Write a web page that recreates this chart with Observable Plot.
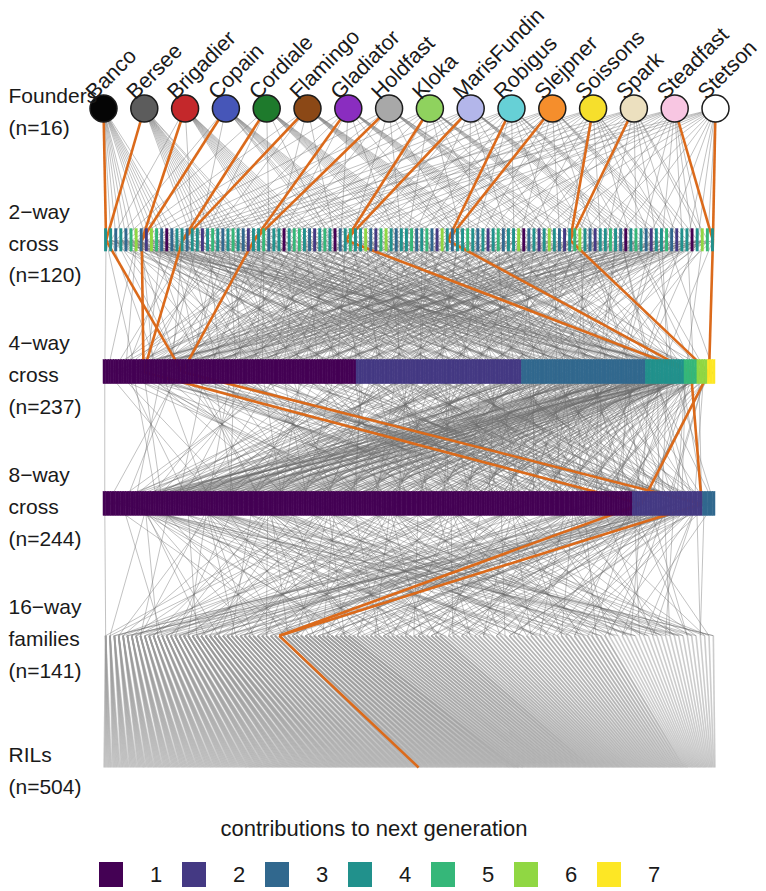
<!DOCTYPE html>
<html><head><meta charset="utf-8">
<script src="https://cdn.jsdelivr.net/npm/d3@7"></script>
<script src="https://cdn.jsdelivr.net/npm/@observablehq/plot@0.6"></script>
<style>
body{margin:0;background:#fff;font-family:"Liberation Sans",Arial,sans-serif;color:#1a1a1a;}
#legend{position:relative;width:766px;height:86px;}
#legend .title{position:absolute;left:0;width:748px;top:11px;text-align:center;font-size:22px;}
#legend .sw{position:absolute;width:24px;height:25px;}
#legend .lab{position:absolute;font-size:22px;line-height:25px;}
</style></head><body>
<div id="chart"></div><div id="legend"></div>
<script>
// ---- data ----
const founders = ["Banco","Bersee","Brigadier","Copain","Cordiale","Flamingo","Gladiator","Holdfast","Kloka","MarisFundin","Robigus","Slejpner","Soissons","Spark","Steadfast","Stetson"];
const founderColors = ["#050505","#5c5c5c","#c4282b","#4656b8","#1e7a2c","#8b4816","#8a2dc0","#a8a8a8","#8fd25e","#b3b6ea","#66d0d6","#f58e2c","#f6df2c","#ece0bf","#f8c6e2","#ffffff"];
const rowLabels = ["Founders\n(n=16)","2\u2212way\ncross\n(n=120)","4\u2212way\ncross\n(n=237)","8\u2212way\ncross\n(n=244)","16\u2212way\nfamilies\n(n=141)","RILs\n(n=504)"];
// contributions to next generation of each 2-way cross (row order)
const twoWayContrib = [
 4,4,3,4,3,5,6,3,2,6,5,3,
 1,3,4,4,3,4,4,2,4,5,4,3,
 4,5,4,3,2,4,4,5,3,4,4,1,
 4,5,5,4,3,2,4,5,4,1,3,4,
 5,4,4,6,3,2,5,6,4,3,4,4,
 5,3,4,5,3,2,6,4,3,4,4,5,
 4,3,4,2,4,5,3,4,4,6,1,3,
 4,2,4,6,4,3,2,4,5,6,4,3,
 2,4,4,5,4,3,1,4,5,4,3,2,
 4,4,5,3,2,4,4,1,4,6,5,4];
// number of 4-way / 8-way crosses with 1,2,3,... contributions
const fourWayGroupSizes = [98,64,48,15,5,4,3];
const eightWayGroupSizes = [211,28,5];
// 16-way families: RILs per family (sorted descending)
const familyRilCountValues = [7,6,5,3,2,1];
const familyRilCountSizes = [26,3,28,21,38,25];
// highlighted lineage
const lineageTwoWayFounders = [[0,1],[2,3],[4,5],[6,7],[8,9],[10,11],[12,13],[14,15]];
const lineageTwoWayIndex = [0,7,15,29,47,67,91,119];
const lineageFourWayIndex = [15,30,227,234];
const lineageFourWayParents = [[1,2],[0,3],[4,5],[6,7]];
const lineageEightWayIndex = [214,238];
const lineageEightWayParents = [[0,3],[1,2]];
const lineageFamilyIndex = 40;
const lineageRilIndex = 259;
// legend
const legendLevels = [1,2,3,4,5,6,7];
const legendColors = ["#440154","#443983","#31688e","#21918c","#35b779","#90d743","#fde725"];
const legendTitle = "contributions to next generation";

// ---- derived structure ----
function expandGroups(sizes, values){const out=[];sizes.forEach((s,g)=>{for(let i=0;i<s;i++)out.push(values?values[g]:g+1);});return out;}
const fourWayContrib = expandGroups(fourWayGroupSizes);
const eightWayContrib = expandGroups(eightWayGroupSizes);
const familyRilCounts = expandGroups(familyRilCountSizes, familyRilCountValues);
const nF = founders.length, nTwo = twoWayContrib.length, nFour = fourWayContrib.length,
      nEight = eightWayContrib.length, nFam = familyRilCounts.length, nRil = d3.sum(familyRilCounts);
const pos = (i,n) => (i+0.5)/n;
const fpos = i => i/(nF-1);
function gcd(a,b){while(b){[a,b]=[b,a%b];}return a;}
function coprimeNear(S,f){let a=Math.max(2,Math.round(S*f));while(gcd(a,S)!==1)a++;return a;}
function assignParents(contrib,nChild){
  const slots=[];contrib.forEach((c,k)=>{for(let i=0;i<c;i++)slots.push(k);});
  const S=slots.length,a=coprimeNear(S,0.381966),b=coprimeNear(S,0.7236);
  const res=[];
  for(let j=0;j<nChild;j++){
    const p1=slots[(j*a)%S];
    let t=(j*b+Math.floor(S/3))%S,p2=slots[t];
    while(p2===p1){t=(t+11)%S;p2=slots[t];}
    res.push([p1,p2]);
  }
  return res;
}
// 2-way crosses: all founder pairs
const allPairs=[];for(let a=0;a<nF;a++)for(let b=a+1;b<nF;b++)allPairs.push([a,b]);
const lineageKeys=new Set(lineageTwoWayFounders.map(p=>p.join("-")));
const others=allPairs.filter(p=>!lineageKeys.has(p.join("-")));
const twoWay=new Array(nTwo);
lineageTwoWayIndex.forEach((idx,k)=>twoWay[idx]=lineageTwoWayFounders[k]);
{let o=0;for(let i=0;i<nTwo;i++)if(!twoWay[i])twoWay[i]=others[o++];}

const gray=[];
twoWay.forEach((pr,k)=>pr.forEach(f=>gray.push({x1:fpos(f),y1:0,x2:pos(k,nTwo),y2:1})));
assignParents(twoWayContrib,nFour).forEach((ps,j)=>ps.forEach(p=>gray.push({x1:pos(p,nTwo),y1:1,x2:pos(j,nFour),y2:2})));
assignParents(fourWayContrib,nEight).forEach((ps,j)=>ps.forEach(p=>gray.push({x1:pos(p,nFour),y1:2,x2:pos(j,nEight),y2:3})));
assignParents(eightWayContrib,nFam).forEach((ps,j)=>ps.forEach(p=>gray.push({x1:pos(p,nEight),y1:3,x2:pos(j,nFam),y2:4})));
const fan=[];
{let r=0;familyRilCounts.forEach((c,f)=>{for(let t=0;t<c;t++){fan.push({x1:pos(f,nFam),y1:4,x2:pos(r,nRil),y2:5});r++;}});}

const orange=[];
lineageTwoWayFounders.forEach((pr,k)=>pr.forEach(f=>orange.push({x1:fpos(f),y1:0,x2:pos(lineageTwoWayIndex[k],nTwo),y2:1})));
lineageFourWayParents.forEach((ps,k)=>ps.forEach(p=>orange.push({x1:pos(lineageTwoWayIndex[p],nTwo),y1:1,x2:pos(lineageFourWayIndex[k],nFour),y2:2})));
lineageEightWayParents.forEach((ps,k)=>ps.forEach(p=>orange.push({x1:pos(lineageFourWayIndex[p],nFour),y1:2,x2:pos(lineageEightWayIndex[k],nEight),y2:3})));
lineageEightWayIndex.forEach(e=>orange.push({x1:pos(e,nEight),y1:3,x2:pos(lineageFamilyIndex,nFam),y2:4}));
orange.push({x1:pos(lineageFamilyIndex,nFam),y1:4,x2:pos(lineageRilIndex,nRil),y2:5});

const yTop=108,yBot=767,rowPx=(yBot-yTop)/5;
const twoHalf=11.5/rowPx, barHalf=12/rowPx;
const twoBars=twoWayContrib.map((c,i)=>({x1:i/nTwo,x2:(i+1)/nTwo,g:1,c}));
const bigBars=[
  ...fourWayContrib.map((c,i)=>({x1:i/nFour,x2:(i+1)/nFour,g:2,c})),
  ...eightWayContrib.map((c,i)=>({x1:i/nEight,x2:(i+1)/nEight,g:3,c}))];
const founderNodes=founders.map((name,i)=>({name,x:fpos(i),color:founderColors[i]}));
const rowData=rowLabels.map((label,g)=>({label,g}));

const chart=Plot.plot({
  width:766,height:805,
  marginLeft:0,marginRight:0,marginTop:0,marginBottom:0,
  x:{domain:[0,1],range:[103,715],axis:null},
  y:{domain:[0,5],range:[yTop,yBot],axis:null},
  color:{type:"ordinal",domain:legendLevels,range:legendColors},
  style:{fontFamily:"Liberation Sans, Arial, sans-serif",background:"#fff",color:"#1a1a1a"},
  marks:[
    Plot.link(gray,{x1:"x1",y1:"y1",x2:"x2",y2:"y2",stroke:"#6e6e6e",strokeOpacity:0.42,strokeWidth:1}),
    Plot.link(fan,{x1:"x1",y1:"y1",x2:"x2",y2:"y2",stroke:"#9a9a9a",strokeOpacity:0.5,strokeWidth:1.6}),
    Plot.link(orange,{x1:"x1",y1:"y1",x2:"x2",y2:"y2",stroke:"#db6a1b",strokeWidth:2.6}),
    Plot.rect(twoBars,{x1:"x1",x2:"x2",y1:d=>d.g-twoHalf,y2:d=>d.g+twoHalf,fill:"c",insetLeft:1.1,insetRight:1.1}),
    Plot.rect(bigBars,{x1:"x1",x2:"x2",y1:d=>d.g-barHalf,y2:d=>d.g+barHalf,fill:"c",stroke:"c",strokeWidth:0.5}),
    ...founderNodes.map(f=>Plot.dot([f],{x:"x",y:()=>0,r:13.5,fill:f.color,stroke:"#1b1b1b",strokeWidth:1.5})),
    Plot.text(founderNodes,{x:"x",y:()=>0,text:"name",rotate:-45,textAnchor:"start",lineAnchor:"bottom",dx:-9,dy:-8,fontSize:21.5,fill:"#1a1a1a"}),
    Plot.text(rowData,{y:"g",text:"label",frameAnchor:"left",textAnchor:"start",dx:8,fontSize:21,lineHeight:1.52,fill:"#1a1a1a"})
  ]
});
document.getElementById("chart").append(chart);

// legend
const lg=document.getElementById("legend");
const t=document.createElement("div");t.className="title";t.textContent=legendTitle;lg.append(t);
legendLevels.forEach((lv,k)=>{
  const s=document.createElement("div");s.className="sw";s.style.left=(99+83*k)+"px";s.style.top="57px";s.style.background=legendColors[k];lg.append(s);
  const l=document.createElement("div");l.className="lab";l.style.left=(150+83*k)+"px";l.style.top="57px";l.textContent=lv;lg.append(l);
});
</script>
</body></html>
